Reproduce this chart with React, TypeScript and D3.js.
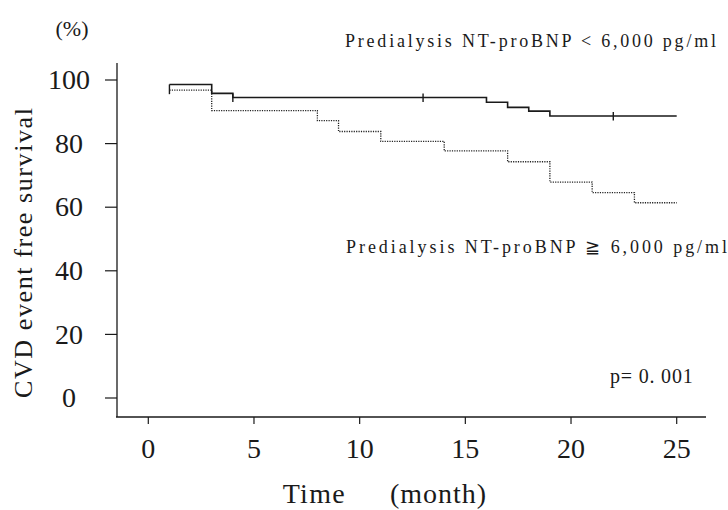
import React from "react";
import * as d3 from "d3";

// Kaplan-Meier step data (months, % event free)
const lowTimes = [1, 3, 4, 16, 17, 18, 19, 25];
const lowSurv = [98.6, 95.8, 94.5, 93.0, 91.4, 90.2, 88.7, 88.7];
const lowCensor = [4, 13, 22];

const highTimes = [1, 3, 8, 9, 11, 14, 17, 19, 21, 23, 25];
const highSurv = [96.8, 90.4, 87.2, 83.8, 80.7, 77.7, 74.3, 67.9, 64.6, 61.4, 61.4];

const xTicks = [0, 5, 10, 15, 20, 25];
const yTicks = [0, 20, 40, 60, 80, 100];

const levelAt = (times, surv, t) => {
  let v = surv[0];
  times.forEach((tt, i) => {
    if (tt <= t) v = surv[i];
  });
  return v;
};

const App = () => {
  const x = d3.scaleLinear().domain([0, 25]).range([148.3, 676.7]);
  const y = d3.scaleLinear().domain([0, 100]).range([398, 80]);

  const line = d3
    .line<number>()
    .x((d) => x(d[0]))
    .y((d) => y(d[1]))
    .curve(d3.curveStepAfter);

  const lowPts = lowTimes.map((t, i) => [t, lowSurv[i]]);
  const highPts = highTimes.map((t, i) => [t, highSurv[i]]);

  const ink = "#1a1a1a";
  const serif = "'Liberation Serif', 'DejaVu Serif', serif";

  return (
    <svg
      width={728}
      height={510}
      style={{ position: "absolute", left: 0, top: 0, background: "#fff" }}
    >
      {/* axes */}
      <line x1={117} x2={117} y1={63} y2={417} stroke={ink} strokeWidth={1.3} />
      <line x1={116} x2={706} y1={417} y2={417} stroke={ink} strokeWidth={1.3} />

      {yTicks.map((t) => (
        <g key={"y" + t}>
          <line x1={105} x2={117} y1={y(t)} y2={y(t)} stroke={ink} strokeWidth={1.2} />
          <text
            x={69}
            y={y(t)}
            dy="0.33em"
            textAnchor="middle"
            fontFamily={serif}
            fontSize={28}
            fill={ink}
          >
            {t}
          </text>
        </g>
      ))}

      {xTicks.map((t) => (
        <g key={"x" + t}>
          <line x1={x(t)} x2={x(t)} y1={417} y2={424} stroke={ink} strokeWidth={1.2} />
          <text
            x={x(t)}
            y={458}
            textAnchor="middle"
            fontFamily={serif}
            fontSize={28}
            fill={ink}
          >
            {t}
          </text>
        </g>
      ))}

      {/* curves */}
      <path d={line(highPts)} fill="none" stroke="#222" strokeWidth={1.3} strokeDasharray="1.2 1.2" />
      <path d={line(lowPts)} fill="none" stroke={ink} strokeWidth={1.6} />

      {/* start tick */}
      <line
        x1={x(lowTimes[0])}
        x2={x(lowTimes[0])}
        y1={y(lowSurv[0])}
        y2={y(highSurv[0]) + 4}
        stroke={ink}
        strokeWidth={1.4}
      />
      {lowCensor.map((t) => {
        const v = levelAt(lowTimes, lowSurv, t);
        return (
          <line
            key={"c" + t}
            x1={x(t)}
            x2={x(t)}
            y1={y(v) - 4}
            y2={y(v) + 4.5}
            stroke={ink}
            strokeWidth={1.4}
          />
        );
      })}

      {/* labels */}
      <text x={72} y={36} textAnchor="middle" fontFamily={serif} fontSize={22} fill={ink}>
        (%)
      </text>
      <text
        transform="translate(32,398) rotate(-90)"
        fontFamily={serif}
        fontSize={26}
        fill={ink}
        textLength={290}
        lengthAdjust="spacing"
      >
        CVD event free survival
      </text>
      <text x={282.7} y={503} fontFamily={serif} fontSize={28} fill={ink} textLength={62} lengthAdjust="spacing">
        Time
      </text>
      <text x={390} y={503} fontFamily={serif} fontSize={28} fill={ink} textLength={96} lengthAdjust="spacing">
        (month)
      </text>

      <text x={345} y={47} fontFamily={serif} fontSize={18} fill={ink} textLength={371} lengthAdjust="spacing">
        Predialysis NT-proBNP &lt; 6,000 pg/ml
      </text>
      <text x={346} y={253} fontFamily={serif} fontSize={18} fill={ink} textLength={381} lengthAdjust="spacing">
        Predialysis NT-proBNP ≧ 6,000 pg/ml
      </text>
      <text x={610} y={383} fontFamily={serif} fontSize={20} fill={ink} xmlSpace="preserve" letterSpacing={0.8}>
        p= 0. 001
      </text>
    </svg>
  );
};

export default App;
